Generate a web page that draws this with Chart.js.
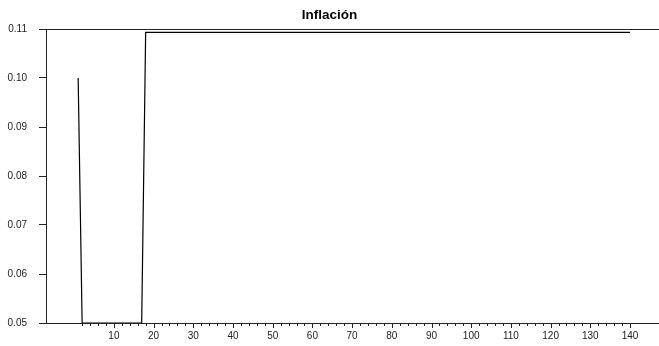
<!DOCTYPE html>
<html>
<head>
<meta charset="utf-8">
<script src="https://cdn.jsdelivr.net/npm/chart.js@4/dist/chart.umd.min.js"></script>
<style>
  html, body { margin: 0; padding: 0; background: #fff; }
  #wrap { width: 659px; height: 346px; }
</style>
</head>
<body>
<div id="wrap"><canvas id="c"></canvas></div>
<script>
// Periodo (1..140) y tasa de inflación de la simulación
const periods = [
  1, 2, 3, 4, 5, 6, 7, 8, 9, 10,
  11, 12, 13, 14, 15, 16, 17, 18, 19, 20,
  21, 22, 23, 24, 25, 26, 27, 28, 29, 30,
  31, 32, 33, 34, 35, 36, 37, 38, 39, 40,
  41, 42, 43, 44, 45, 46, 47, 48, 49, 50,
  51, 52, 53, 54, 55, 56, 57, 58, 59, 60,
  61, 62, 63, 64, 65, 66, 67, 68, 69, 70,
  71, 72, 73, 74, 75, 76, 77, 78, 79, 80,
  81, 82, 83, 84, 85, 86, 87, 88, 89, 90,
  91, 92, 93, 94, 95, 96, 97, 98, 99, 100,
  101, 102, 103, 104, 105, 106, 107, 108, 109, 110,
  111, 112, 113, 114, 115, 116, 117, 118, 119, 120,
  121, 122, 123, 124, 125, 126, 127, 128, 129, 130,
  131, 132, 133, 134, 135, 136, 137, 138, 139, 140
];
const inflation = [
  0.1000, 0.05, 0.05, 0.05, 0.05, 0.05, 0.05, 0.05, 0.05, 0.05,
  0.05, 0.05, 0.05, 0.05, 0.05, 0.05, 0.05, 0.1093, 0.1093, 0.1093,
  0.1093, 0.1093, 0.1093, 0.1093, 0.1093, 0.1093, 0.1093, 0.1093, 0.1093, 0.1093,
  0.1093, 0.1093, 0.1093, 0.1093, 0.1093, 0.1093, 0.1093, 0.1093, 0.1093, 0.1093,
  0.1093, 0.1093, 0.1093, 0.1093, 0.1093, 0.1093, 0.1093, 0.1093, 0.1093, 0.1093,
  0.1093, 0.1093, 0.1093, 0.1093, 0.1093, 0.1093, 0.1093, 0.1093, 0.1093, 0.1093,
  0.1093, 0.1093, 0.1093, 0.1093, 0.1093, 0.1093, 0.1093, 0.1093, 0.1093, 0.1093,
  0.1093, 0.1093, 0.1093, 0.1093, 0.1093, 0.1093, 0.1093, 0.1093, 0.1093, 0.1093,
  0.1093, 0.1093, 0.1093, 0.1093, 0.1093, 0.1093, 0.1093, 0.1093, 0.1093, 0.1093,
  0.1093, 0.1093, 0.1093, 0.1093, 0.1093, 0.1093, 0.1093, 0.1093, 0.1093, 0.1093,
  0.1093, 0.1093, 0.1093, 0.1093, 0.1093, 0.1093, 0.1093, 0.1093, 0.1093, 0.1093,
  0.1093, 0.1093, 0.1093, 0.1093, 0.1093, 0.1093, 0.1093, 0.1093, 0.1093, 0.1093,
  0.1093, 0.1093, 0.1093, 0.1093, 0.1093, 0.1093, 0.1093, 0.1093, 0.1093, 0.1093,
  0.1093, 0.1093, 0.1093, 0.1093, 0.1093, 0.1093, 0.1093, 0.1093, 0.1093, 0.1093
];
const yTicks = [0.05, 0.06, 0.07, 0.08, 0.09, 0.10, 0.11];
const xLabelTicks = [10, 20, 30, 40, 50, 60, 70, 80, 90, 100, 110, 120, 130, 140];
const xMinorStep = 2;

const FONT = '"Liberation Sans", Arial, Helvetica, sans-serif';
const INK = '#222';

// Short minor ticks and longer labelled ticks under the x axis
const xTickMarks = {
  id: 'xTickMarks',
  afterDraw(chart) {
    const x = chart.scales.x, ctx = chart.ctx;
    const y0 = x.top;
    ctx.save();
    ctx.strokeStyle = INK;
    ctx.lineWidth = 1;
    ctx.beginPath();
    x.ticks.forEach(t => {
      const px = Math.round(x.getPixelForValue(t.value)) + 0.5;
      const len = xLabelTicks.includes(t.value) ? 5 : 3;
      ctx.moveTo(px, y0);
      ctx.lineTo(px, y0 + len);
    });
    ctx.stroke();
    ctx.restore();
  }
};

new Chart(document.getElementById('c'), {
  type: 'line',
  data: {
    datasets: [{
      data: periods.map((p, i) => ({ x: p, y: inflation[i] })),
      borderColor: '#000',
      borderWidth: 1.2,
      pointRadius: 0,
      tension: 0,
      fill: false
    }]
  },
  options: {
    responsive: true,
    maintainAspectRatio: false,
    animation: false,
    events: [],
    layout: { padding: { left: 0, right: 0, top: 0, bottom: 0 } },
    plugins: {
      legend: { display: false },
      tooltip: { enabled: false },
      title: {
        display: true,
        text: 'Inflación',
        color: '#000',
        font: { family: FONT, size: 13.5, weight: 'bold', lineHeight: 1.2 },
        padding: { top: 7.5, bottom: 5.3 }
      }
    },
    scales: {
      x: {
        type: 'linear',
        min: -7.1,
        max: 147.3,
        afterBuildTicks(scale) {
          const ticks = [];
          for (let v = xMinorStep; v <= periods[periods.length - 1]; v += xMinorStep) ticks.push({ value: v });
          scale.ticks = ticks;
        },
        afterFit(scale) { scale.height = 23; },
        grid: { display: false, drawTicks: false },
        border: { display: true, color: INK, width: 1 },
        ticks: {
          autoSkip: false,
          maxRotation: 0,
          padding: 7,
          color: INK,
          font: { family: FONT, size: 10 },
          callback: v => xLabelTicks.includes(v) ? String(v) : ''
        }
      },
      y: {
        type: 'linear',
        min: 0.05,
        max: 0.11,
        afterBuildTicks(scale) {
          scale.ticks = yTicks.map(v => ({ value: v }));
        },
        afterFit(scale) { scale.width = 46; },
        grid: {
          drawOnChartArea: true,
          drawTicks: true,
          tickLength: 7,
          tickColor: INK,
          color: ctx => (ctx.tick && (Math.abs(ctx.tick.value - 0.05) < 1e-9 || Math.abs(ctx.tick.value - 0.11) < 1e-9)) ? INK : 'rgba(0,0,0,0)'
        },
        border: { display: true, color: INK, width: 1 },
        ticks: {
          padding: 12,
          color: INK,
          font: { family: FONT, size: 10 },
          callback: v => Number(v).toFixed(2)
        }
      }
    }
  },
  plugins: [xTickMarks]
});
</script>
</body>
</html>
